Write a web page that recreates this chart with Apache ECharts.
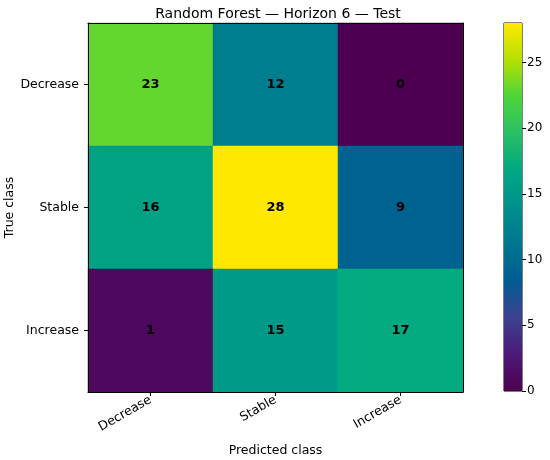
<!DOCTYPE html>
<html><head><meta charset="utf-8">
<script src="https://cdn.jsdelivr.net/npm/echarts@6/dist/echarts.min.js"></script>
<style>html,body{margin:0;padding:0;background:#fff}#c{width:550px;height:460px}</style>
</head><body><div id="c"></div>
<script>
const title = 'Random Forest — Horizon 6 — Test';
const predictedLabels = ['Decrease', 'Stable', 'Increase'];
const trueLabels = ['Decrease', 'Stable', 'Increase'];
const matrix = [
  [23, 12, 0],
  [16, 28, 9],
  [1, 15, 17]
];
const colorMin = 0;
const colorMax = 28;
const colorTicks = 5;
const viridis = ['#4d0050','#4c1a78','#3d4290','#005c92','#00768f','#00908c','#00a882','#2abf66','#4dd43c','#b5e000','#ffe800'];

const cells = [];
matrix.forEach((row, i) => row.forEach((v, j) => cells.push([j, i, v])));

const FONT = 'DejaVu Sans';
const chart = echarts.init(document.getElementById('c'));
chart.setOption({
  animation: false,
  textStyle: { fontFamily: FONT, color: '#000' },
  title: { text: title, left: 273, textAlign: 'center', top: 2,
    textStyle: { fontFamily: FONT, fontSize: 14, fontWeight: 'normal', color: '#000' } },
  grid: [
    { left: 88, top: 23, width: 375, height: 369, show: false, containLabel: false, outerBoundsMode: 'none' },
    { left: 504, top: 23, width: 18, height: 368, show: true, borderColor: '#000', borderWidth: 1, backgroundColor: 'transparent', containLabel: false, outerBoundsMode: 'none' }
  ],
  xAxis: [
    { type: 'category', gridIndex: 0, data: predictedLabels, position: 'bottom',
      name: 'Predicted class', nameLocation: 'middle', nameGap: 52, nameMoveOverlap: false,
      nameTextStyle: { fontFamily: FONT, fontSize: 12.5, color: '#000' },
      axisLine: { show: true, lineStyle: { color: '#000', width: 1 } },
      axisTick: { show: true, alignWithLabel: true, length: 4, lineStyle: { color: '#000' } },
      axisLabel: { rotate: 30, fontFamily: FONT, fontSize: 12.5, color: '#000', margin: 7 },
      splitLine: { show: false }, z: 5 },
    { type: 'category', gridIndex: 0, data: predictedLabels, position: 'top',
      axisLine: { show: true, lineStyle: { color: '#000', width: 1 } },
      axisTick: { show: false }, axisLabel: { show: false }, z: 5 },
    { type: 'category', gridIndex: 1, data: ['c'], show: false }
  ],
  yAxis: [
    { type: 'category', gridIndex: 0, data: trueLabels, inverse: true, position: 'left',
      name: 'True class', nameLocation: 'middle', nameGap: 72, nameRotate: 90, nameMoveOverlap: false,
      nameTextStyle: { fontFamily: FONT, fontSize: 12.5, color: '#000' },
      axisLine: { show: true, lineStyle: { color: '#000', width: 1 } },
      axisTick: { show: true, alignWithLabel: true, length: 4, lineStyle: { color: '#000' } },
      axisLabel: { fontFamily: FONT, fontSize: 12.5, color: '#000', margin: 9 },
      splitLine: { show: false }, z: 5 },
    { type: 'category', gridIndex: 0, data: trueLabels, inverse: true, position: 'right',
      axisLine: { show: true, lineStyle: { color: '#000', width: 1 } },
      axisTick: { show: false }, axisLabel: { show: false }, z: 5 },
    { type: 'value', gridIndex: 1, position: 'right', min: colorMin, max: colorMax, interval: colorTicks,
      axisLine: { show: false },
      axisTick: { show: true, length: 4, lineStyle: { color: '#000' } },
      axisLabel: { fontFamily: FONT, fontSize: 12, color: '#000', margin: 5, showMaxLabel: false },
      splitLine: { show: false } }
  ],
  visualMap: {
    show: false, type: 'continuous', min: colorMin, max: colorMax, seriesIndex: 0, dimension: 2,
    inRange: { color: viridis }
  },
  series: [
    { type: 'heatmap', xAxisIndex: 0, yAxisIndex: 0, data: cells,
      label: { show: true, fontFamily: FONT, fontSize: 13, fontWeight: 'bold', color: '#000' },
      itemStyle: { borderWidth: 0 } },
    { type: 'bar', xAxisIndex: 2, yAxisIndex: 2, data: [colorMax], barWidth: '100%', silent: true,
      itemStyle: { color: new echarts.graphic.LinearGradient(0, 1, 0, 0,
        viridis.map((c, k) => ({ offset: k / (viridis.length - 1), color: c }))) } }
  ]
});
</script></body></html>
